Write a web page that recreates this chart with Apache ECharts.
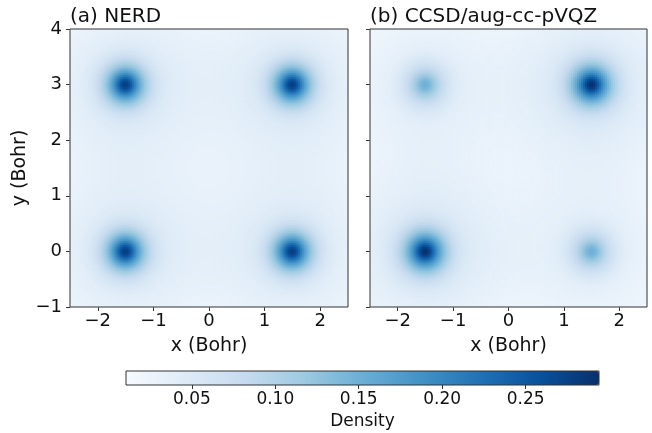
<!DOCTYPE html>
<html>
<head>
<meta charset="utf-8">
<script src="https://cdn.jsdelivr.net/npm/echarts@6/dist/echarts.min.js"></script>
<style>
  html, body { margin: 0; padding: 0; background: #fff; }
  #chart { width: 652px; height: 433px; }
</style>
</head>
<body>
<div id="chart"></div>
<script>
// atom sites (Bohr)
const atomX = [-1.5, 1.5, -1.5, 1.5];
const atomY = [0, 0, 3, 3];

// per-atom peak shape: sharp spike, core, broad halo (density units / Bohr)
const nerdSpike = [0.075, 0.075, 0.075, 0.075];
const nerdCore = [0.155, 0.155, 0.155, 0.155];
const nerdCoreWidth = [0.28, 0.28, 0.28, 0.28];
const nerdHalo = [0.038, 0.038, 0.038, 0.038];

const ccsdSpike = [0.08, 0.03, 0.03, 0.08];
const ccsdCore = [0.16, 0.08, 0.08, 0.16];
const ccsdCoreWidth = [0.29, 0.27, 0.27, 0.29];
const ccsdHalo = [0.042, 0.028, 0.028, 0.042];

const spikeWidth = 0.12;
const haloWidth = 1.05;
const densityFloor = 0.0105;

const xTicks = [-2, -1, 0, 1, 2];
const yTicks = [-1, 0, 1, 2, 3, 4];
const cbarTicks = [0.05, 0.1, 0.15, 0.2, 0.25];
const densityMin = 0.0105;
const densityMax = 0.294;

const blues = ["#f7fbff", "#deebf7", "#c6dbef", "#9ecae1", "#6baed6", "#4292c6", "#2171b5", "#08519c", "#08306b"];

const N = 139;
const xMin = -2.5, xMax = 2.5, yMin = -1, yMax = 4;
const cells = Array.from({ length: N }, (_, i) => i);

function buildGrid(spike, core, coreWidth, halo) {
  const data = [];
  for (let i = 0; i < N; i++) {
    const x = xMin + (i + 0.5) * (xMax - xMin) / N;
    for (let j = 0; j < N; j++) {
      const y = yMin + (j + 0.5) * (yMax - yMin) / N;
      let v = densityFloor;
      for (let k = 0; k < atomX.length; k++) {
        const r2 = (x - atomX[k]) ** 2 + (y - atomY[k]) ** 2;
        v += spike[k] * Math.exp(-r2 / (2 * spikeWidth * spikeWidth));
        v += core[k] * Math.exp(-r2 / (2 * coreWidth[k] * coreWidth[k]));
        v += halo[k] * Math.exp(-r2 / (2 * haloWidth * haloWidth));
      }
      data.push([i, j, v]);
    }
  }
  return data;
}

const nerdData = buildGrid(nerdSpike, nerdCore, nerdCoreWidth, nerdHalo);
const ccsdData = buildGrid(ccsdSpike, ccsdCore, ccsdCoreWidth, ccsdHalo);

const font = "DejaVu Sans";
const minus = (v) => String(v).replace("-", "\u2212");
const axisColor = "#333";
const textColor = "#111";

function catAxis(gridIndex) {
  return { type: "category", gridIndex, data: cells, show: false };
}

function valueX(gridIndex) {
  return {
    type: "value", gridIndex, min: xMin, max: xMax, position: "bottom",
    name: "x (Bohr)", nameLocation: "middle", nameGap: 30,
    nameTextStyle: { fontFamily: font, fontSize: 19, color: textColor },
    axisLine: { show: false },
    axisTick: { show: true, length: 4, customValues: xTicks, lineStyle: { color: axisColor } },
    axisLabel: { customValues: xTicks, formatter: minus, margin: 5, fontFamily: font, fontSize: 18, color: textColor },
    splitLine: { show: false },
  };
}

function valueY(gridIndex, withLabels) {
  return {
    type: "value", gridIndex, min: yMin, max: yMax, position: "left",
    name: withLabels ? "y (Bohr)" : "", nameLocation: "middle", nameGap: 40,
    nameTextStyle: { fontFamily: font, fontSize: 19, color: textColor },
    axisLine: { show: false },
    axisTick: { show: true, length: 4, customValues: yTicks, lineStyle: { color: axisColor } },
    axisLabel: { show: withLabels, customValues: yTicks, formatter: minus, margin: 8, fontFamily: font, fontSize: 18, color: textColor },
    splitLine: { show: false },
  };
}

const chart = echarts.init(document.getElementById("chart"), null, { renderer: "canvas" });

chart.setOption({
  animation: false,
  backgroundColor: "#fff",
  title: [
    { text: "(a) NERD", left: 70, top: 7, padding: 0, textStyle: { fontFamily: font, fontSize: 20, fontWeight: "normal", color: textColor } },
    { text: "(b) CCSD/aug-cc-pVQZ", left: 370, top: 7, padding: 0, textStyle: { fontFamily: font, fontSize: 20, fontWeight: "normal", color: textColor } },
  ],
  grid: [
    { left: 70, top: 29, width: 278, height: 278, show: true, z: 5, backgroundColor: "transparent", borderColor: axisColor, borderWidth: 1 },
    { left: 370, top: 29, width: 277, height: 278, show: true, z: 5, backgroundColor: "transparent", borderColor: axisColor, borderWidth: 1 },
    { left: 126, top: 371, width: 473, height: 14, show: true, z: 5, backgroundColor: "transparent", borderColor: axisColor, borderWidth: 1 },
  ],
  xAxis: [
    catAxis(0), valueX(0),
    catAxis(1), valueX(1),
    {
      type: "value", gridIndex: 2, min: densityMin, max: densityMax, position: "bottom",
      name: "Density", nameLocation: "middle", nameGap: 28,
      nameTextStyle: { fontFamily: font, fontSize: 17, color: textColor },
      axisLine: { show: false },
      axisTick: { show: true, length: 4, customValues: cbarTicks, lineStyle: { color: axisColor } },
      axisLabel: { customValues: cbarTicks, formatter: (v) => v.toFixed(2), margin: 6, fontFamily: font, fontSize: 17, color: textColor },
      splitLine: { show: false },
    },
  ],
  yAxis: [
    catAxis(0), valueY(0, true),
    catAxis(1), valueY(1, false),
    { type: "value", gridIndex: 2, show: false, min: 0, max: 1 },
  ],
  visualMap: {
    type: "continuous",
    seriesIndex: [0, 1],
    dimension: 2,
    min: densityMin,
    max: densityMax,
    orient: "horizontal",
    left: 126,
    top: 371,
    itemWidth: 14,
    itemHeight: 473,
    padding: 0,
    calculable: false,
    hoverLink: false,
    inRange: { color: blues },
  },
  series: [
    { type: "heatmap", xAxisIndex: 0, yAxisIndex: 0, data: nerdData, progressive: 0, emphasis: { disabled: true } },
    { type: "heatmap", xAxisIndex: 2, yAxisIndex: 2, data: ccsdData, progressive: 0, emphasis: { disabled: true } },
  ],
});
</script>
</body>
</html>
